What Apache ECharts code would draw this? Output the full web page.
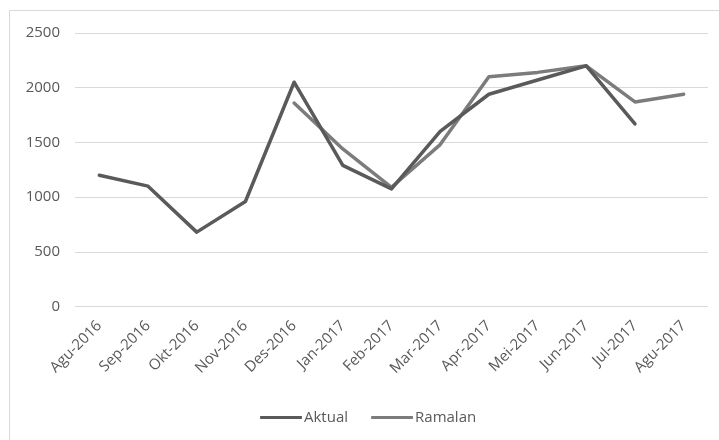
<!DOCTYPE html>
<html><head><meta charset="utf-8">
<script src="https://cdn.jsdelivr.net/npm/echarts@6/dist/echarts.min.js"></script>
<style>html,body{margin:0;padding:0;background:#fff}#c{width:719px;height:440px}</style>
</head><body><div id="c"></div>
<script>
const categories = ['Agu-2016','Sep-2016','Okt-2016','Nov-2016','Des-2016','Jan-2017','Feb-2017','Mar-2017','Apr-2017','Mei-2017','Jun-2017','Jul-2017','Agu-2017'];
const aktual = [1200, 1100, 680, 960, 2050, 1290, 1075, 1600, 1940, 2070, 2200, 1670, null];
const ramalan = [null, null, null, null, 1860, 1440, 1090, 1480, 2100, 2140, 2200, 1870, 1940];
const yTicks = {min: 0, max: 2500, interval: 500};

const chart = echarts.init(document.getElementById('c'), null, {renderer: 'canvas'});
const font = '"Open Sans", sans-serif';
chart.setOption({
  animation: false,
  backgroundColor: '#fff',
  graphic: [{type: 'rect', shape: {x: 9.5, y: 10.5, width: 740, height: 460}, style: {fill: 'none', stroke: '#d9d9d9', lineWidth: 1}, silent: true}],
  grid: {left: 75, right: 11, top: 33, bottom: 133.5},
  xAxis: {
    type: 'category', data: categories, boundaryGap: true,
    axisLine: {show: false}, axisTick: {show: false},
    axisLabel: {rotate: 45, color: '#595959', fontFamily: font, fontSize: 15, margin: 17, interval: 0}
  },
  yAxis: {
    type: 'value', min: yTicks.min, max: yTicks.max, interval: yTicks.interval,
    axisLine: {show: false}, axisTick: {show: false},
    axisLabel: {color: '#595959', fontFamily: font, fontSize: 15, margin: 15, formatter: v => String(v)},
    splitLine: {lineStyle: {color: '#d9d9d9', width: 1}}
  },
  legend: {
    top: 405, left: 255, itemWidth: 42, itemHeight: 3, itemGap: 23,
    icon: 'roundRect',
    textStyle: {color: '#595959', fontFamily: font, fontSize: 15, padding: [0,0,0,-3]},
    data: ['Aktual', 'Ramalan']
  },
  series: [
    {name: 'Aktual', type: 'line', data: aktual, symbol: 'none', connectNulls: false,
     lineStyle: {color: '#5a5a5a', width: 3.5, cap: 'round', join: 'round'}, itemStyle: {color: '#5a5a5a'}, z: 3},
    {name: 'Ramalan', type: 'line', data: ramalan, symbol: 'none', connectNulls: false,
     lineStyle: {color: '#7c7c7c', width: 3.5, cap: 'round', join: 'round'}, itemStyle: {color: '#7c7c7c'}, z: 2}
  ]
});
</script></body></html>
